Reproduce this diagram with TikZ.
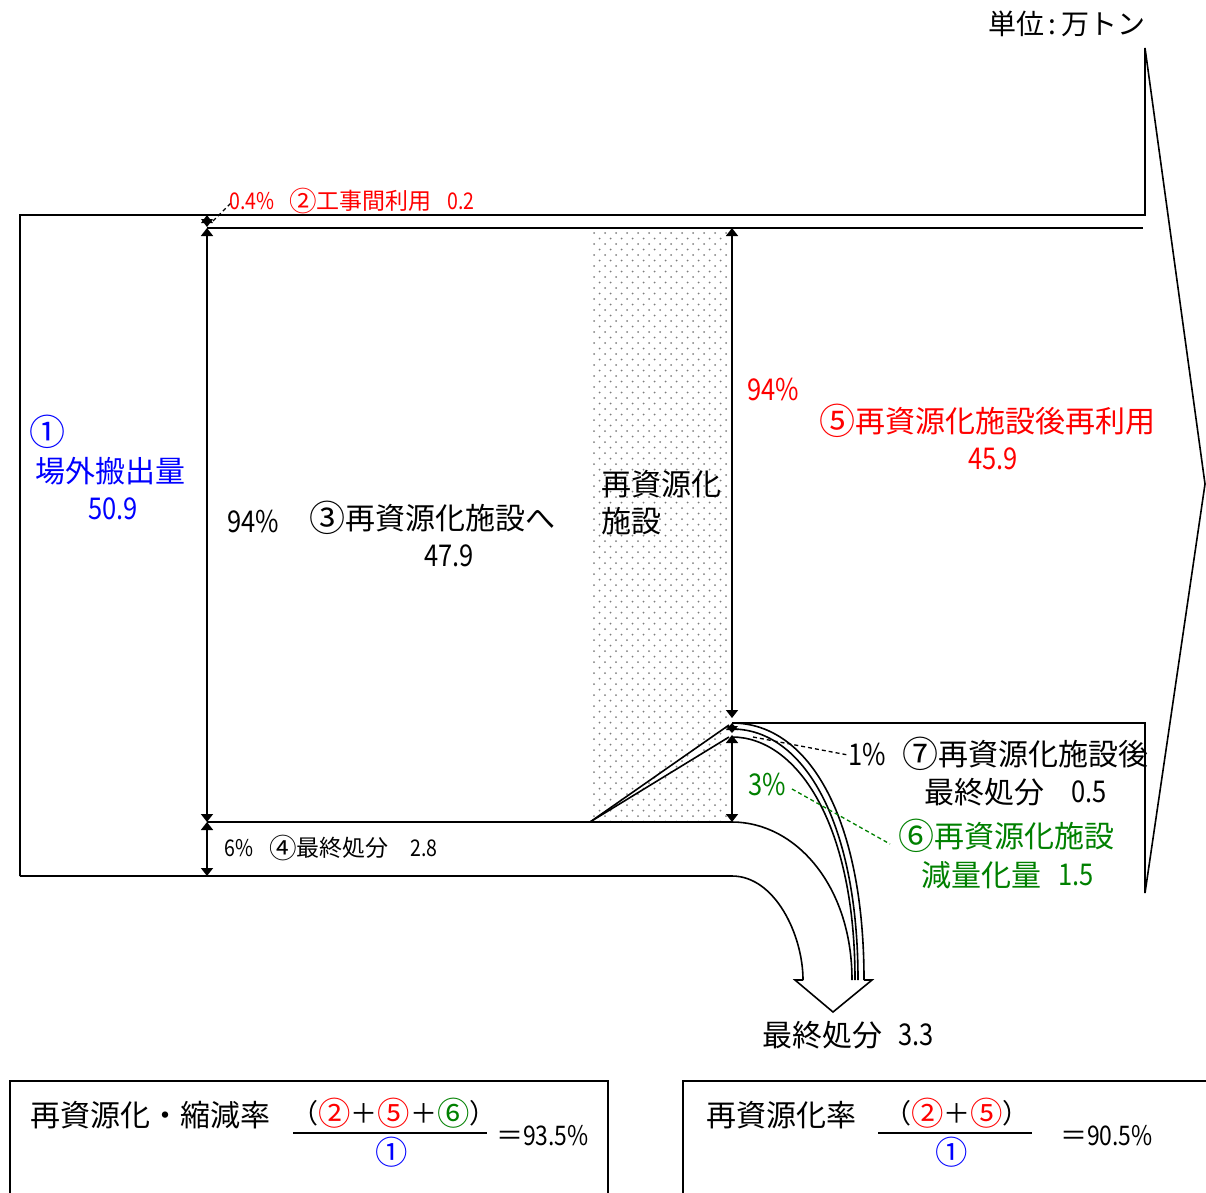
\documentclass[tikz,border=0pt]{standalone}
\usepackage{fontspec}
\setmainfont{Noto Sans CJK JP}
\newfontfamily\numfont[FakeStretch=0.85]{Noto Sans CJK JP}
\usetikzlibrary{arrows.meta}
\definecolor{jred}{RGB}{255,0,0}
\definecolor{jblue}{RGB}{0,0,255}
\definecolor{jgreen}{RGB}{0,128,0}
\definecolor{dotgray}{RGB}{125,125,125}
\newcommand\circn[1]{\raisebox{-0.08em}{\scalebox{1.2}{#1}}}
\begin{document}
\begin{tikzpicture}[x=1pt,y=-1pt,
  every node/.style={inner sep=0pt, outer sep=0pt},
  flow/.style={line width=1.6pt, line join=miter},
  dim/.style={line width=1.6pt, {Triangle[width=12pt,length=8pt]}-{Triangle[width=12pt,length=8pt]}},
  tipfill/.style={fill=black},
  lead/.style={line width=1.3pt, dash pattern=on 4pt off 3pt},
  boxline/.style={line width=2.6pt},
  big/.style={font=\fontsize{30}{34}\selectfont},
  mid/.style={font=\fontsize{27}{31}\selectfont},
  small/.style={font=\fontsize{23}{27}\selectfont},
]
\useasboundingbox (0,0) rectangle (1206,1192);

% dotted recycling facility area
\foreach \yy in {233,244,...,818} {
  \foreach \xx in {594,605,...,726} { \fill[dotgray] (\xx,\yy) circle (1.0); }
  \foreach \xx in {599.5,610.5,...,722} { \fill[dotgray] (\xx,\yy+5.5) circle (1.0); }
}

% key coordinates
\coordinate (TL) at (20,215);
\coordinate (TR) at (1145,215);
\coordinate (AT) at (1145,48);
\coordinate (TIP) at (1205,484);
\coordinate (AB) at (1145,893);
\coordinate (B7L) at (732,723);
\coordinate (B7R) at (1145,723);
\coordinate (BL) at (20,876);
\coordinate (B4R) at (732,876);
\coordinate (T2L) at (207,228);
\coordinate (T2R) at (1143,228);
\coordinate (M4L) at (207,822);
\coordinate (M4R) at (732,822);
\coordinate (DG) at (590,822);
\coordinate (DU) at (729,725);
\coordinate (DL) at (729,737);
\coordinate (AHL) at (795,980);
\coordinate (AHT) at (833,1012);
\coordinate (AHR) at (872,980);

% main outline with big arrow
\draw[flow] (BL) -- (TL) -- (TR) -- (AT) -- (TIP) -- (AB) -- (B7R) -- (B7L);
\draw[flow] (T2L) -- (T2R);
\draw[flow] (M4L) -- (M4R);
\draw[flow] (BL) -- (B4R);

% diagonal lines into the facility outflow
\draw[flow] (DG) -- (DU);
\draw[flow] (DG) -- (DL);

% curved outflows to final disposal
\draw[flow] (B4R) .. controls (775,876) and (803,935) .. (803,980) coordinate (S2);
\draw[flow] (M4R) .. controls (795,822) and (852,885) .. (852,980) coordinate (S1);
\draw[flow] (732,737) .. controls (795,737) and (855,820) .. (855,980);
\draw[flow] (732,729) .. controls (805,729) and (858,825) .. (858,980);
\draw[flow] (B7L) .. controls (810,723) and (864,820) .. (864,980) coordinate (S5);
\draw[flow] (S2) -- (AHL) -- (AHT) -- (AHR) -- (S5);

% dimension arrows left
\fill[tipfill] (207,215) -- (201,223) -- (213,223) -- cycle;
\fill[tipfill] (207,227) -- (201,219) -- (213,219) -- cycle;
\draw[dim] (207,228) -- (207,822);
\draw[dim] (207,822) -- (207,876);
% dimension arrows right
\draw[dim] (732,228) -- (732,718);
\fill[tipfill] (732,723) -- (726,730) -- (738,730) -- cycle;
\fill[tipfill] (732,733) -- (726,726) -- (738,726) -- cycle;
\draw[dim] (732,735) -- (732,822);

% leaders
\coordinate (L04a) at (213,221); \coordinate (L04b) at (232,202);
\coordinate (L1a) at (753,737); \coordinate (L1b) at (848,755);
\coordinate (L3a) at (792,789); \coordinate (L3b) at (890,844);
\draw[lead, black] (L04a) -- (L04b);
\draw[lead, black] (L1a) -- (L1b);
\draw[lead, jgreen] (L3a) -- (L3b);

% texts
\node[font=\fontsize{28}{32}\selectfont, anchor=west] (unit) at (988,24) {単位\,:\,万トン};

\node[small, text=jred] (p04) at (252,201) {\numfont 0.4\%};
\node[small, text=jred, anchor=west] (n2) at (289,201) {\circn{②}工事間利用};
\node[small, text=jred] (v2) at (461,201) {\numfont 0.2};

\node[big, text=jblue] (n1) at (47,432) {\circn{①}};
\node[big, text=jblue] (n1t) at (110,471) {場外搬出量};
\node[big, text=jblue] (n1v) at (113,509) {\numfont 50.9};

\node[big] (p3) at (253,521) {\numfont 94\%};
\node[big, anchor=west] (n3) at (309,518) {\circn{③}再資源化施設へ};
\node[big] (v3) at (449,556) {\numfont 47.9};

\node[big, anchor=west] (fac1) at (601,484) {再資源化};
\node[big, anchor=west] (fac2) at (601,521) {施設};

\node[big, text=jred] (p5) at (773,389) {\numfont 94\%};
\node[big, text=jred, anchor=west] (n5) at (819,421) {\circn{⑤}再資源化施設後再利用};
\node[big, text=jred] (v5) at (993,459) {\numfont 45.9};

\node[small] (p4) at (239,848) {\numfont 6\%};
\node[small, anchor=west] (n4) at (269,848) {\circn{④}最終処分};
\node[small] (v4) at (424,848) {\numfont 2.8};

\node[big] (p7) at (867,754) {\numfont 1\%};
\node[big, anchor=west] (n7) at (902,754) {\circn{⑦}再資源化施設後};
\node[big, anchor=west] (n7b) at (924,792) {最終処分};
\node[big] (v7) at (1089,792) {\numfont 0.5};

\node[big, text=jgreen] (p6) at (767,784) {\numfont 3\%};
\node[big, text=jgreen, anchor=west] (n6) at (898,836) {\circn{⑥}再資源化施設};
\node[big, text=jgreen, anchor=west] (n6b) at (921,875) {減量化量};
\node[big, text=jgreen] (v6) at (1076,875) {\numfont 1.5};

\node[big, anchor=west] (fd) at (762,1035) {最終処分};
\node[big] (fdv) at (916,1035) {\numfont 3.3};

% bottom formula boxes
\draw[boxline] (10,1200) -- (10,1081) -- (608,1081) -- (608,1200);
\draw[boxline] (683,1200) -- (683,1081) -- (1212,1081);

\node[big, anchor=west] (r1) at (30,1115) {再資源化・縮減率};
\node[mid] (r1num) at (394,1113) {（\textcolor{jred}{\circn{②}}＋\textcolor{jred}{\circn{⑤}}＋\textcolor{jgreen}{\circn{⑥}}）};
\coordinate (r1barL) at (293,1133); \coordinate (r1barR) at (487,1133);
\draw[line width=1.5pt] (r1barL) -- (r1barR);
\node[mid, text=jblue] (r1den) at (392,1152) {\circn{①}};
\node[mid, anchor=west] (r1val) at (496,1136) {＝{\numfont 93.5\%}};

\node[big, anchor=west] (r2) at (706,1115) {再資源化率};
\node[mid] (r2num) at (957,1113) {（\textcolor{jred}{\circn{②}}＋\textcolor{jred}{\circn{⑤}}）};
\coordinate (r2barL) at (878,1133); \coordinate (r2barR) at (1032,1133);
\draw[line width=1.5pt] (r2barL) -- (r2barR);
\node[mid, text=jblue] (r2den) at (952,1152) {\circn{①}};
\node[mid, anchor=west] (r2val) at (1060,1136) {＝{\numfont 90.5\%}};
\end{tikzpicture}
\end{document}
